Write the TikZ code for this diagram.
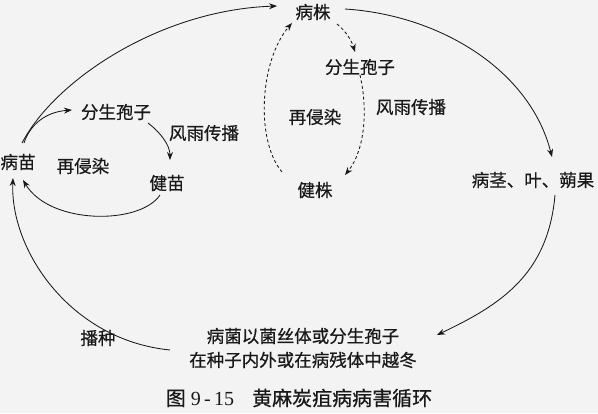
\documentclass[tikz,border=0pt]{standalone}
\usepackage{fontspec}
\newfontfamily\cjk[FakeBold=0.6]{Noto Sans CJK SC}
\newfontfamily\capserif{Liberation Serif}
\usetikzlibrary{arrows.meta,calc}
\definecolor{bg}{RGB}{243,243,243}
\definecolor{ink}{RGB}{25,25,25}
\begin{document}
\begin{tikzpicture}[x=1pt,y=-1pt,
  lbl/.style={font=\cjk\fontsize{17.5}{24}\selectfont, text=ink, inner sep=0pt},
  conn/.style={draw=ink, line width=0.85pt, -{Stealth[length=8pt,width=6pt]}},
  dconn/.style={conn, dash pattern=on 3pt off 2.5pt}]
\fill[bg] (0,0) rectangle (598,413);
\useasboundingbox (0,0) rectangle (598,413);
% right cycle
\node[lbl] (bingzhu) at (313,12) {病株};
\node[lbl] (fz2) at (360,67) {分生孢子};
\node[lbl] (fy2) at (411,107) {风雨传播};
\node[lbl] (zq2) at (315,117) {再侵染};
\node[lbl] (jianzhu) at (315,190) {健株};
\node[lbl] (bj) at (533,180) {病茎、叶、蒴果};
% left cycle
\node[lbl] (bingmiao) at (18,162) {病苗};
\node[lbl] (fz1) at (116,112) {分生孢子};
\node[lbl] (fy1) at (204,133) {风雨传播};
\node[lbl] (zq1) at (83,166) {再侵染};
\node[lbl] (jianmiao) at (167,183) {健苗};
% bottom
\node[lbl] (bozhong) at (98,338) {播种};
\node[lbl, align=center] (yuedong) at (303,348) {病菌以菌丝体或分生孢子\\在种子内外或在病残体中越冬};
\node[font=\capserif\fontsize{20}{24}\selectfont, text=ink, inner sep=0pt] (caption) at (299,398)
  {{\cjk 图}\ 9\,-\,15\hspace{0.9em}{\cjk 黄麻炭疽病病害循环}};
% solid connectors
\draw[conn] ($(bingmiao.center)+(4,-19)$) .. controls (55,80) and (160,10) .. ($(bingzhu.center)+(-36,-6)$);
\draw[conn] ($(bingmiao.center)+(6,-19)$) .. controls (30,125) and (45,112) .. ($(fz1.center)+(-44,-2)$);
\draw[conn] ($(fz1.center)+(32,11)$) .. controls (160,132) and (170,145) .. ($(jianmiao.center)+(3,-23)$);
\draw[conn] ($(jianmiao.center)+(-7,12)$) .. controls (140,225) and (50,225) .. ($(bingmiao.center)+(5,18)$);
\draw[conn] ($(yuedong.center)+(-133,2)$) .. controls (70,340) and (10,250) .. ($(bingmiao.center)+(-5,16)$);
\draw[conn] ($(bingzhu.center)+(32,-3)$) .. controls (440,15) and (530,70) .. ($(bj.center)+(19,-23)$);
\draw[conn] ($(bj.center)+(22,15)$) .. controls (548,275) and (500,305) .. ($(yuedong.center)+(134,-13)$);
% dashed connectors
\draw[dconn] ($(bingzhu.center)+(24,12)$) .. controls (347,32) and (352,42) .. ($(fz2.center)+(-5,-15)$);
\draw[dconn] ($(fz2.center)+(0,8)$) .. controls (368,110) and (365,150) .. ($(jianzhu.center)+(30,-15)$);
\draw[dconn] ($(jianzhu.center)+(-33,-18)$) .. controls (255,140) and (260,60) .. ($(bingzhu.center)+(-21,11)$);
\end{tikzpicture}
\end{document}
